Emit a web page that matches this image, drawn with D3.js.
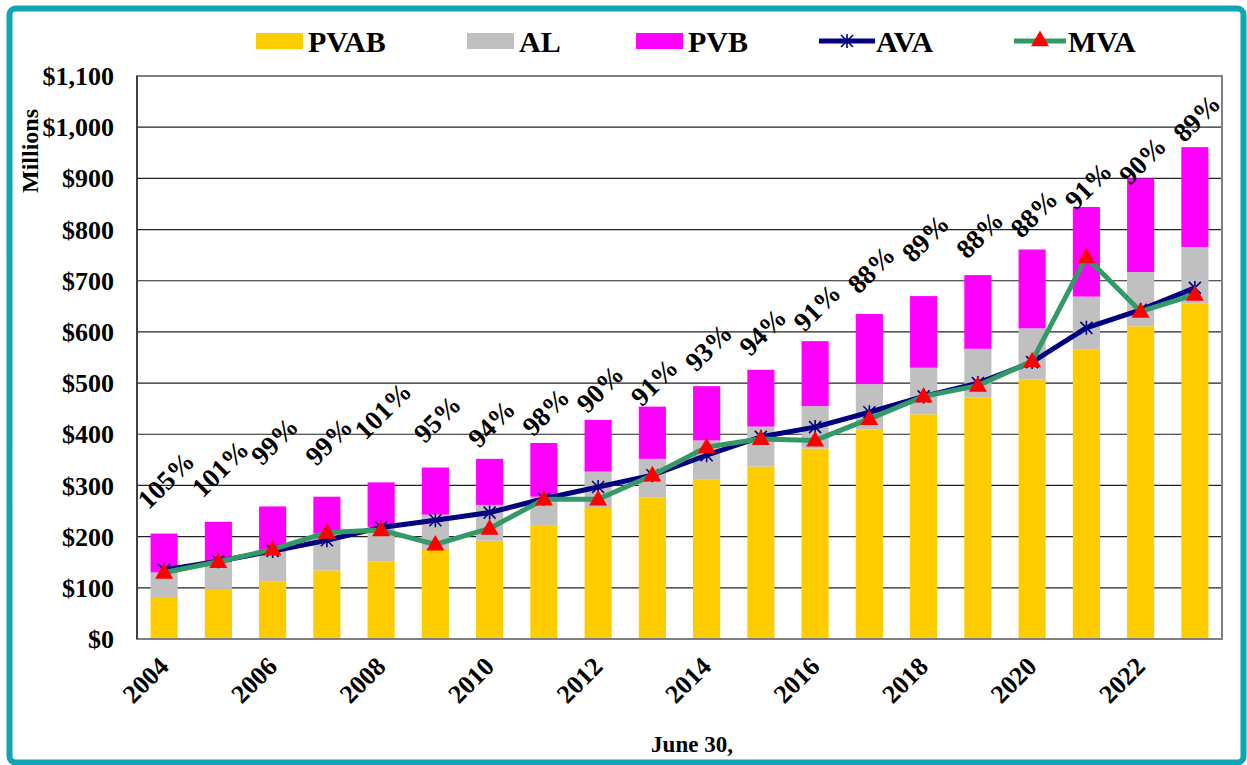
<!DOCTYPE html>
<html lang="en">
  <head>
    <meta charset="UTF-8" />
    <title>PVAB / AL / PVB vs AVA and MVA</title>
    <script src="https://d3js.org/d3.v7.min.js"></script>
    <style>
      body {
        margin: 0;
        background: #fff;
        font-family: "Liberation Serif", "Times New Roman", serif;
      }
      text {
        font-weight: bold;
        fill: #000;
      }
    </style>
  </head>
  <body>
    <div id="chart"></div>
    <script>
      // values in $ millions
      const years = [2004, 2005, 2006, 2007, 2008, 2009, 2010, 2011, 2012, 2013,
        2014, 2015, 2016, 2017, 2018, 2019, 2020, 2021, 2022, 2023]
      const pvab = [82, 98, 113, 134, 151, 174, 192, 223, 256, 276, 311, 337, 372, 409, 439, 472, 507, 565, 611, 655]
      const al = [48, 52, 58, 72, 68, 69, 70, 55, 71, 76, 77, 78, 83, 89, 91, 95, 100, 104, 106, 111]
      const pvb = [76, 79, 88, 72, 87, 92, 90, 105, 101, 102, 106, 111, 127, 137, 140, 144, 154, 175, 183, 195]
      const ava = [135, 152, 172, 193, 218, 232, 247, 274, 297, 320, 359, 395, 414, 443, 474, 500, 541, 608, 643, 686]
      const mva = [130, 151, 175, 208, 213, 185, 216, 273, 273, 320, 375, 391, 388, 430, 474, 495, 543, 746, 640, 673]
      const ratioLabels = ["105%", "101%", "99%", "99%", "101%", "95%", "94%", "98%", "90%", "91%",
        "93%", "94%", "91%", "88%", "89%", "88%", "88%", "91%", "90%", "89%"]
      // where each ratio label sits, in $ millions
      const ratioLabelAt = [310, 333, 387, 386, 446, 430, 421, 444, 489, 502, 570, 600, 648, 722, 783, 790, 831, 886, 935, 1018]
      const yTicks = [0, 100, 200, 300, 400, 500, 600, 700, 800, 900, 1000, 1100]
      const xTickYears = years.filter(y => y % 2 === 0)

      const W = 1247, H = 765
      const plot = { left: 137, right: 1222, top: 76, bottom: 639 }

      const svg = d3.select("#chart").append("svg").attr("width", W).attr("height", H)

      // teal frame
      svg.append("rect")
        .attr("x", 9.5).attr("y", 8.5).attr("width", 1234).attr("height", 754)
        .attr("rx", 6)
        .attr("fill", "none").attr("stroke", "#0EA5B4").attr("stroke-width", 6)

      const x = d3.scaleBand().domain(years).range([plot.left, plot.right]).paddingInner(0.5).paddingOuter(0.25)
      const y = d3.scaleLinear().domain([0, 1100]).range([plot.bottom, plot.top])

      // gridlines
      svg.append("g")
        .selectAll("line")
        .data(yTicks.filter(d => d > 0 && d < 1100))
        .join("line")
        .attr("x1", plot.left).attr("x2", plot.right)
        .attr("y1", d => y(d)).attr("y2", d => y(d))
        .attr("stroke", "#222").attr("stroke-width", 1.2)

      // stacked bars
      const rows = years.map((yr, i) => ({ year: yr, PVAB: pvab[i], AL: al[i], PVB: pvb[i] }))
      const keys = ["PVAB", "AL", "PVB"]
      const colors = { PVAB: "#FFCC00", AL: "#C0C0C0", PVB: "#FF00FF" }
      const stacked = d3.stack().keys(keys)(rows)

      svg.append("g")
        .selectAll("g")
        .data(stacked)
        .join("g")
        .attr("fill", d => colors[d.key])
        .selectAll("rect")
        .data(d => d)
        .join("rect")
        .attr("x", d => x(d.data.year))
        .attr("width", x.bandwidth())
        .attr("y", d => y(d[1]))
        .attr("height", d => y(d[0]) - y(d[1]))

      // plot frame
      svg.append("rect")
        .attr("x", plot.left).attr("y", plot.top)
        .attr("width", plot.right - plot.left).attr("height", plot.bottom - plot.top)
        .attr("fill", "none").attr("stroke", "#808080").attr("stroke-width", 2)
      svg.append("line")
        .attr("x1", plot.left).attr("x2", plot.left)
        .attr("y1", plot.top).attr("y2", plot.bottom)
        .attr("stroke", "#404040").attr("stroke-width", 2)

      const cx = yr => x(yr) + x.bandwidth() / 2
      const line = d3.line().x(d => cx(d[0])).y(d => y(d[1]))

      const starPath = "M-6,-6L6,6M-6,6L6,-6M0,-7L0,7"
      const tri = d3.symbol().type(d3.symbolTriangle).size(140)()

      // AVA
      svg.append("path")
        .datum(years.map((yr, i) => [yr, ava[i]]))
        .attr("d", line)
        .attr("fill", "none").attr("stroke", "#000080").attr("stroke-width", 5)
      svg.append("g")
        .selectAll("path")
        .data(years.map((yr, i) => [yr, ava[i]]))
        .join("path")
        .attr("d", starPath)
        .attr("transform", d => `translate(${cx(d[0])},${y(d[1])})`)
        .attr("stroke", "#000080").attr("stroke-width", 1.6).attr("fill", "none")

      // MVA
      svg.append("path")
        .datum(years.map((yr, i) => [yr, mva[i]]))
        .attr("d", line)
        .attr("fill", "none").attr("stroke", "#339966").attr("stroke-width", 5)
      svg.append("g")
        .selectAll("path")
        .data(years.map((yr, i) => [yr, mva[i]]))
        .join("path")
        .attr("d", tri)
        .attr("transform", d => `translate(${cx(d[0])},${y(d[1]) + 1})`)
        .attr("fill", "#FF0000")

      // ratio labels
      svg.append("g")
        .selectAll("text")
        .data(years.map((yr, i) => [yr, ratioLabelAt[i], ratioLabels[i]]))
        .join("text")
        .attr("transform", d => `translate(${cx(d[0]) + 2},${y(d[1])}) rotate(-45)`)
        .attr("text-anchor", "middle")
        .attr("dominant-baseline", "central")
        .style("font-size", "27px")
        .text(d => d[2])

      // y axis labels
      svg.append("g")
        .selectAll("text")
        .data(yTicks)
        .join("text")
        .attr("x", 114)
        .attr("y", d => y(d))
        .attr("dy", "0.35em")
        .attr("text-anchor", "end")
        .style("font-size", "26px")
        .text(d => "$" + d3.format(",")(d))

      svg.append("text")
        .attr("transform", `translate(38,151) rotate(-90)`)
        .attr("text-anchor", "middle")
        .style("font-size", "24px")
        .text("Millions")

      // x axis labels
      svg.append("g")
        .selectAll("text")
        .data(xTickYears)
        .join("text")
        .attr("transform", d => `translate(${cx(d) + 6},668) rotate(-45)`)
        .attr("text-anchor", "end")
        .style("font-size", "26px")
        .text(d => d)

      svg.append("text")
        .attr("x", 692).attr("y", 752)
        .attr("text-anchor", "middle")
        .style("font-size", "23px")
        .text("June 30,")

      // legend
      const legend = svg.append("g").style("font-size", "30px")
      const boxItems = [
        { key: "PVAB", x: 256 },
        { key: "AL", x: 467 },
        { key: "PVB", x: 636 }
      ]
      boxItems.forEach(it => {
        legend.append("rect").attr("x", it.x).attr("y", 33).attr("width", 47).attr("height", 16).attr("fill", colors[it.key])
        legend.append("text").attr("x", it.x + 52).attr("y", 52).text(it.key)
      })
      legend.append("line").attr("x1", 819).attr("x2", 875).attr("y1", 41).attr("y2", 41)
        .attr("stroke", "#000080").attr("stroke-width", 5)
      legend.append("path").attr("d", starPath).attr("transform", "translate(847,41)")
        .attr("stroke", "#000080").attr("stroke-width", 1.6).attr("fill", "none")
      legend.append("text").attr("x", 876).attr("y", 52).text("AVA")
      legend.append("line").attr("x1", 1014).attr("x2", 1066).attr("y1", 41).attr("y2", 41)
        .attr("stroke", "#339966").attr("stroke-width", 5)
      legend.append("path").attr("d", tri).attr("transform", "translate(1040,41)").attr("fill", "#FF0000")
      legend.append("text").attr("x", 1068).attr("y", 52).text("MVA")
    </script>
  </body>
</html>
